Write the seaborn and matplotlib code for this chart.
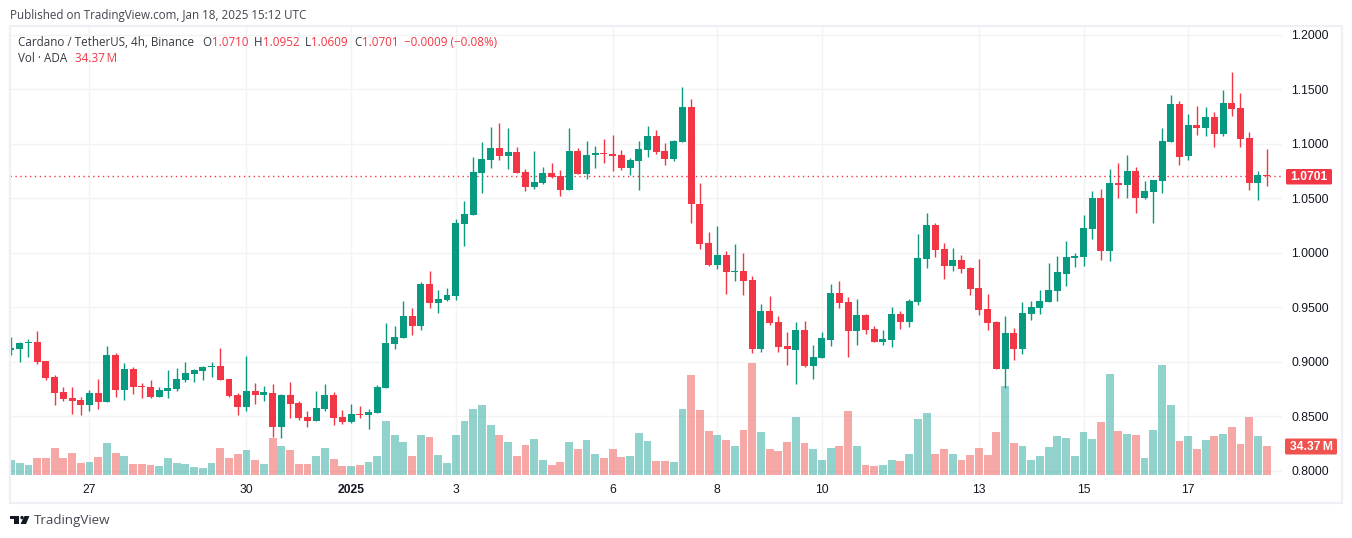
import numpy as np
import pandas as pd
import matplotlib.pyplot as plt
import seaborn as sns
from matplotlib.patches import Rectangle, Polygon, Circle, FancyBboxPatch

opens = [.9109, .9118, .9173, .9182, .9008, .8861, .8723, .8668, .8650, .8604, .8714, .8632, .9063, .8742, .8934,
         .8778, .8769, .8677, .8732, .8751, .8833, .8888, .8916, .8953, .8962, .8843, .8696, .8586, .8732, .8696,
         .8714, .8402, .8696, .8622, .8494, .8457, .8567, .8696, .8494, .8448, .8521, .8512, .8531, .8760, .9164,
         .9219, .9420, .9329, .9714, .9540, .9567, .9604, 1.0265, 1.0347, 1.0732, 1.0852, 1.0962, 1.0888, 1.0925, 1.0742,
         1.0604, 1.0641, 1.0732, 1.0705, 1.0576, 1.0934, 1.0723, 1.0898, 1.0916, 1.0907, 1.0898, 1.0778, 1.0843, 1.0943, 1.1072,
         1.0934, 1.0861, 1.1017, 1.1338, 1.0448, 1.0090, .9888, .9980, .9824, .9833, .9751, .9118, .9466, .9365, .9145,
         .9109, .9292, .8962, .9035, .9200, .9631, .9549, .9283, .9430, .9301, .9182, .9200, .9439, .9365, .9549,
         .9943, 1.0255, 1.0035, .9879, .9934, .9861, .9677, .9485, .9365, .8934, .9265, .9118, .9439, .9494, .9549,
         .9650, .9806, .9953, .9962, 1.0219, 1.0503, 1.0017, 1.0641, 1.0622, 1.0751, 1.0503, 1.0558, 1.0659, 1.1017, 1.1365,
         1.0888, 1.1173, 1.1145, 1.1246, 1.1090, 1.1375, 1.1329, 1.1054, 1.0641, 1.0710]
highs = [.9231, .9182, .9209, .9283, .9008, .8879, .8769, .8769, .8677, .8742, .8843, .9145, .9081, .8989, .8953,
         .8806, .8833, .8769, .8925, .8943, .8998, .8934, .8962, .8998, .9127, .8843, .8714, .9054, .8806, .8778,
         .8797, .8705, .8815, .8641, .8549, .8732, .8797, .8723, .8558, .8613, .8595, .8567, .8787, .9356, .9329,
         .9558, .9494, .9732, .9833, .9659, .9677, 1.0310, 1.0476, 1.0879, 1.1017, 1.1154, 1.1191, 1.1145, 1.0971, 1.0769,
         1.0934, 1.0787, 1.0824, 1.0760, 1.1145, 1.0962, 1.1026, 1.0980, 1.1044, 1.1081, 1.0943, 1.0870, 1.1026, 1.1164, 1.1127,
         1.1008, 1.1035, 1.1521, 1.1411, 1.0641, 1.0191, 1.0246, 1.0017, 1.0081, .9998, .9787, .9531, .9604, .9420, .9274,
         .9365, .9375, .9154, .9274, .9714, .9742, .9595, .9576, .9439, .9329, .9292, .9503, .9466, .9576, 1.0173,
         1.0365, 1.0274, 1.0090, 1.0044, .9980, .9870, .9943, .9622, .9375, .9420, .9310, .9549, .9558, .9659, .9907,
         .9971, 1.0109, .9998, 1.0347, 1.0567, 1.0586, 1.0769, 1.0824, 1.0898, 1.0787, 1.0659, 1.0668, 1.1145, 1.1448, 1.1393,
         1.1274, 1.1347, 1.1338, 1.1292, 1.1494, 1.1659, 1.1466, 1.1109, 1.0751, 1.0952]
lows = [.9063, .8998, .9044, .8980, .8833, .8604, .8641, .8521, .8512, .8549, .8567, .8632, .8677, .8650, .8705,
        .8668, .8668, .8677, .8668, .8732, .8815, .8815, .8833, .8861, .8833, .8677, .8512, .8549, .8613, .8641,
        .8310, .8301, .8485, .8466, .8402, .8457, .8549, .8420, .8430, .8439, .8485, .8384, .8531, .8760, .9118,
        .9219, .9246, .9292, .9494, .9448, .9558, .9567, 1.0063, 1.0347, 1.0549, 1.0778, 1.0852, 1.0769, 1.0732, 1.0567,
        1.0586, 1.0631, 1.0687, 1.0521, 1.0576, 1.0723, 1.0677, 1.0778, 1.0824, 1.0751, 1.0760, 1.0714, 1.0576, 1.0879, 1.0907,
        1.0806, 1.0843, 1.1017, 1.0274, 1.0035, .9879, .9852, .9622, .9742, .9613, .9081, .9090, .9338, .9090, .8971,
        .8797, .8953, .8843, .9035, .9145, .9494, .9044, .9154, .9255, .9182, .9154, .9136, .9301, .9320, .9521,
        .9861, .9962, .9760, .9833, .9815, .9613, .9430, .9292, .8934, .8760, .9017, .9072, .9384, .9439, .9549,
        .9558, .9696, .9870, .9879, 1.0127, .9934, .9925, 1.0503, 1.0503, 1.0365, 1.0494, 1.0274, 1.0549, 1.1017, 1.0806,
        1.0852, 1.1081, 1.1072, 1.0971, 1.1072, 1.1255, 1.0971, 1.0576, 1.0485, 1.0609]
closes = [.9127, .9173, .9182, .8998, .8852, .8714, .8659, .8641, .8604, .8714, .8632, .9063, .8742, .8934, .8769,
          .8769, .8677, .8742, .8760, .8843, .8898, .8925, .8953, .8962, .8833, .8687, .8586, .8732, .8696, .8723,
          .8402, .8696, .8613, .8485, .8457, .8576, .8696, .8485, .8448, .8521, .8512, .8540, .8769, .9173, .9228,
          .9420, .9329, .9714, .9540, .9576, .9613, 1.0274, 1.0356, 1.0742, 1.0861, 1.0962, 1.0888, 1.0925, 1.0732, 1.0604,
          1.0650, 1.0732, 1.0696, 1.0576, 1.0934, 1.0723, 1.0898, 1.0916, 1.0907, 1.0888, 1.0778, 1.0852, 1.0953, 1.1072, 1.0925,
          1.0861, 1.1026, 1.1338, 1.0448, 1.0081, .9888, .9980, .9824, .9833, .9742, .9118, .9466, .9356, .9136, .9118,
          .9292, .8962, .9044, .9219, .9631, .9540, .9283, .9430, .9292, .9182, .9209, .9439, .9365, .9558, .9953,
          1.0255, 1.0026, .9879, .9934, .9852, .9668, .9476, .9356, .8934, .9265, .9118, .9448, .9503, .9558, .9659,
          .9824, .9962, .9971, 1.0228, 1.0503, 1.0017, 1.0641, 1.0622, 1.0751, 1.0503, 1.0567, 1.0668, 1.1026, 1.1365, 1.0879,
          1.1173, 1.1145, 1.1246, 1.1090, 1.1375, 1.1320, 1.1044, 1.0641, 1.0714, 1.0701]
# millions of ADA
volumes = [17.8, 14.2, 11.9, 20.1, 20.1, 32.0, 20.1, 26.1, 14.2, 15.4, 21.3, 37.9, 26.1, 22.5, 13.0,
           13.0, 11.9, 10.7, 20.1, 14.2, 13.0, 9.5, 8.3, 14.2, 32.0, 20.1, 24.9, 29.6, 17.8, 13.0,
           43.8, 34.4, 29.6, 13.0, 13.0, 22.5, 32.0, 19.0, 10.7, 10.7, 11.9, 15.4, 22.5, 64.0, 47.4,
           39.1, 22.5, 47.4, 45.0, 23.7, 14.2, 47.4, 64.0, 78.2, 83.0, 59.3, 47.4, 39.1, 22.5, 35.6,
           42.7, 17.8, 11.9, 15.4, 39.1, 30.8, 41.5, 24.9, 20.1, 30.8, 21.3, 22.5, 49.8, 40.3, 16.6,
           16.6, 15.4, 78.2, 118.5, 77.0, 52.1, 47.4, 41.5, 34.4, 53.3, 132.7, 51.0, 30.8, 28.4, 39.1,
           68.7, 37.9, 30.8, 17.8, 32.0, 34.4, 75.8, 34.4, 11.9, 10.7, 11.9, 17.8, 16.6, 24.9, 66.4,
           73.5, 24.9, 30.8, 24.9, 17.8, 23.7, 32.0, 23.7, 51.0, 105.5, 37.9, 34.4, 17.8, 22.5, 33.2,
           46.2, 43.8, 22.5, 51.0, 42.7, 62.8, 119.7, 52.1, 48.6, 47.4, 20.1, 53.3, 130.4, 83.0, 40.3,
           46.2, 30.8, 41.5, 46.2, 48.6, 56.9, 36.7, 68.7, 46.2, 34.37]

price_ticks = [0.80, 0.85, 0.90, 0.95, 1.00, 1.05, 1.10, 1.15, 1.20]
day_ticks = [9, 27, 39, 51, 69, 81, 93, 111, 123, 135]
day_labels = ["27", "30", "2025", "3", "6", "8", "10", "13", "15", "17"]

UP = "#089981"
DOWN = "#F23645"
TEXT = "#131722"
GRID = "#F2F3F5"
FRAME = "#EEF0F6"

df = pd.DataFrame({"open": opens, "high": highs, "low": lows, "close": closes, "vol": volumes})
df["i"] = df.index
df["up"] = df.close >= df.open
df["top"] = df[["open", "close"]].max(axis=1)
df["bottom"] = df[["open", "close"]].min(axis=1)
df["body"] = df.top - df.bottom

sns.set_theme(style="white")
plt.rcParams["font.family"] = ["Liberation Sans", "DejaVu Sans"]

fig = plt.figure(figsize=(13.52, 5.38), dpi=100)
rect = [10 / 1352, 1 - 475 / 538, 1272 / 1352, 449 / 538]
ax = fig.add_axes(rect)
ax_vol = ax.twinx()
ax_can = ax.twinx()

# volume sits between the grid and the candles
sns.barplot(data=df, x="i", y="vol", hue="up", palette={True: "#26A69A", False: "#EF5350"},
            native_scale=True, width=0.9, alpha=0.5, saturation=1, errorbar=None, legend=False,
            linewidth=0, ax=ax_vol)
ax_vol.set_ylim(0, 532)

for is_up, col in [(True, UP), (False, DOWN)]:
    part = df[df.up == is_up]
    ax_can.vlines(part.i, part.low, part.high, color=col, lw=1.0, zorder=1)
    sns.barplot(data=part, x="i", y="body", bottom=part.bottom.values, color=col, saturation=1,
                native_scale=True, width=0.8, errorbar=None, linewidth=0, zorder=2, ax=ax_can)
ax_can.axhline(closes[-1], color=DOWN, lw=1, ls=(0, (1, 2.5)), zorder=0)
ax_can.set_ylim(0.7962, 1.2081)

ax.set_ylim(0.7962, 1.2081)
ax.set_xlim(-0.115, 145.76)
ax.yaxis.tick_right()
ax.set_yticks(price_ticks)
ax.set_yticklabels([f"{p:.4f}" for p in price_ticks])
ax.set_xticks(day_ticks)
ax.set_xticklabels(day_labels)
ax.tick_params(axis="y", length=0, pad=6.5, labelsize=8.7, labelcolor=TEXT)
ax.tick_params(axis="x", length=0, pad=6.5, labelsize=8.7, labelcolor=TEXT)
ax.get_xticklabels()[2].set_fontweight("bold")
ax.grid(True, color=GRID, lw=1)
ax.set_axisbelow(True)
ax_vol.set_yticks([])
ax_can.set_yticks([])
for a in [ax, ax_vol, ax_can]:
    a.set_xlabel("")
    a.set_ylabel("")
    a.patch.set_visible(a is ax)
    sns.despine(ax=a, left=True, right=True, top=True, bottom=True)

# page overlay in pixels: frame, header, price labels, logo
page = fig.add_axes([0, 0, 1, 1], zorder=10)
page.set_xlim(0, 1352)
page.set_ylim(538, 0)
page.axis("off")
page.add_patch(Rectangle((9.5, 26), 1332, 476.5, fill=False, ec=FRAME, lw=1.6))

head = ["Open Sans", "DejaVu Sans"]
page.text(10, 15, "Published on TradingView.com, Jan 18, 2025 15:12 UTC", color="#42464F",
          fontsize=8.4, family=head, va="center")
legend_row = [(18, "Cardano / TetherUS, 4h, Binance", TEXT), (202, "O", TEXT), (212, "1.0710", DOWN),
              (254, "H", TEXT), (263, "1.0952", DOWN), (305, "L", TEXT), (311, "1.0609", DOWN),
              (354, "C", TEXT), (362, "1.0701", DOWN), (404, "\u22120.0009 (\u22120.08%)", DOWN)]
for x, s, col in legend_row:
    page.text(x, 42, s, color=col, fontsize=8.4, family=head, va="center", alpha=0.85 if col == TEXT else 1)
page.text(18, 59, "Vol \u00b7 ADA", color=TEXT, fontsize=8.4, family=head, va="center", alpha=0.85)
page.text(75, 59, "34.37\u2009M", color=DOWN, fontsize=8.4, family=head, va="center")

page.add_patch(FancyBboxPatch((1286, 169), 46, 15.5, boxstyle="round,pad=0,rounding_size=1.5", fc=DOWN, ec="none"))
page.text(1309, 177, f"{closes[-1]:.4f}", color="white", fontsize=8.7, weight="bold", ha="center", va="center")
page.add_patch(FancyBboxPatch((1285, 438.5), 52, 16, boxstyle="round,pad=0,rounding_size=1.5", fc="#EF5350", ec="none"))
page.text(1311, 446.8, "34.37\u2009M", color="white", fontsize=8.7, weight="bold", ha="center", va="center",
          family=["Liberation Sans", "DejaVu Sans"])

logo = "#131722"
page.add_patch(Polygon([(10, 516), (19, 516), (19, 524), (14, 524), (14, 519), (10, 519)], fc=logo, ec="none"))
page.add_patch(Circle((22, 517.6), 1.7, fc=logo, ec="none"))
page.add_patch(Polygon([(24.5, 516), (29.5, 516), (26, 524), (20.5, 524)], fc=logo, ec="none"))
page.text(33.5, 520.5, "TradingView", color="#42464F", fontsize=9.6, family=head, va="center")

fig.savefig("out.png", dpi=100)
